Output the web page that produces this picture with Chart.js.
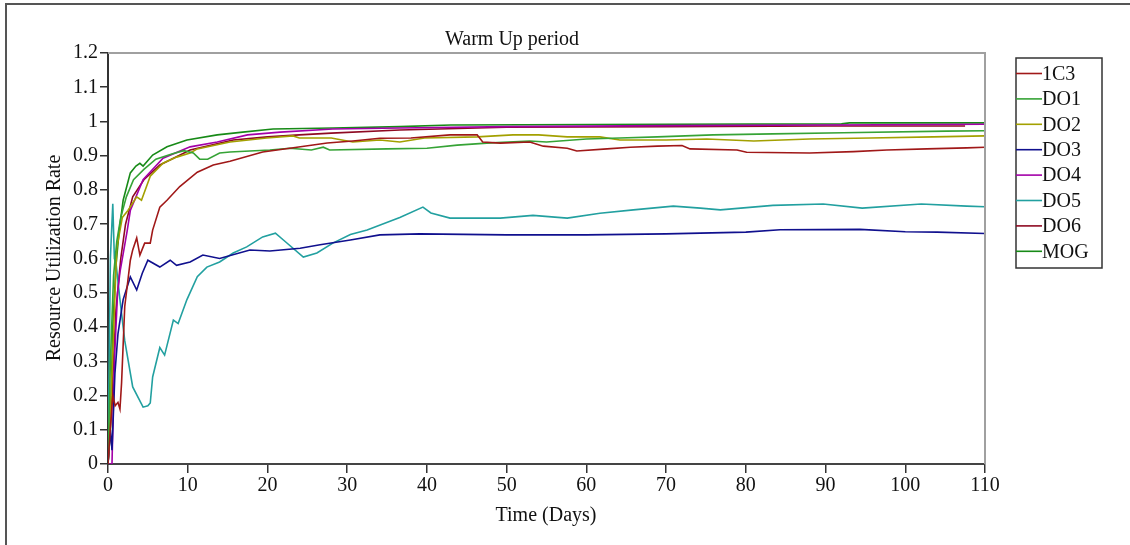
<!DOCTYPE html>
<html>
<head>
<meta charset="utf-8">
<script src="https://cdn.jsdelivr.net/npm/chart.js@4/dist/chart.umd.min.js"></script>
<style>
  html, body { margin: 0; padding: 0; background: #fff; }
  #wrap { width: 1130px; height: 545px; }
</style>
</head>
<body>
<div id="wrap"><canvas id="warmUp" width="1130" height="545"></canvas></div>
<script>
// series names, in legend order
var seriesNames = ["1C3", "DO1", "DO2", "DO3", "DO4", "DO5", "DO6", "MOG"];
var seriesColors = ["#a01818", "#36a336", "#a3a000", "#10108e", "#a300a8", "#22a0a0", "#8e0a22", "#178a17"];

// values (days, rate)
var c3Days = [0, 0.25, 0.6, 0.9, 1.25, 1.5, 1.7, 2.1, 2.8, 3.1, 3.6, 4.0, 4.6, 5.3, 5.6, 6.5, 7.4, 9, 11.2, 13.2, 15.3, 19.4, 22.8, 27.5, 30.7, 34.1, 38, 42.9, 46.3, 47, 49.2, 52.9, 54.6, 57.6, 58.8, 62.6, 65.5, 68.9, 72, 73, 78.9, 80.1, 88, 93.5, 97.7, 102.7, 107.7, 110];
var c3Rate = [0, 0.09, 0.2, 0.17, 0.18, 0.16, 0.236, 0.46, 0.595, 0.625, 0.66, 0.61, 0.645, 0.645, 0.683, 0.75, 0.77, 0.81, 0.852, 0.873, 0.884, 0.911, 0.922, 0.937, 0.943, 0.951, 0.952, 0.961, 0.961, 0.94, 0.937, 0.94, 0.928, 0.922, 0.914, 0.92, 0.925, 0.928, 0.93, 0.92, 0.917, 0.91, 0.908, 0.912, 0.917, 0.92, 0.923, 0.925];

var do1Days = [0, 0.3, 0.7, 1.1, 1.6, 2.3, 3.2, 4.5, 6, 8, 9.5, 10.7, 11.5, 12.5, 14, 15.3, 20.3, 22.8, 25.5, 27, 27.8, 35, 40, 43.8, 47.5, 52.9, 55, 60, 64.2, 68.9, 75.9, 83.4, 92.2, 105.2, 110];
var do1Rate = [0, 0.3, 0.55, 0.65, 0.72, 0.78, 0.83, 0.86, 0.89, 0.905, 0.915, 0.908, 0.89, 0.89, 0.908, 0.911, 0.917, 0.922, 0.917, 0.925, 0.917, 0.92, 0.922, 0.931, 0.937, 0.943, 0.94, 0.949, 0.952, 0.955, 0.961, 0.964, 0.967, 0.972, 0.973];

var do2Days = [0, 0.4, 0.8, 1.1, 1.8, 2.5, 3.6, 4.2, 5.3, 6.9, 8.6, 10.3, 11.2, 15.3, 19.9, 23.2, 24, 28, 30.7, 34.1, 36.6, 39.7, 46.3, 50.8, 54, 57.6, 61.7, 64.2, 70, 75.1, 81, 88, 95.6, 103.5, 110];
var do2Rate = [0, 0.2, 0.45, 0.63, 0.72, 0.74, 0.78, 0.77, 0.84, 0.878, 0.896, 0.908, 0.92, 0.94, 0.952, 0.958, 0.952, 0.952, 0.94, 0.946, 0.94, 0.952, 0.955, 0.961, 0.961, 0.955, 0.955, 0.946, 0.946, 0.949, 0.943, 0.949, 0.952, 0.955, 0.958];

var do3Days = [0, 0.3, 0.5, 0.87, 1.25, 1.9, 2.8, 3.6, 4.3, 5.0, 6.5, 7.8, 8.6, 10.3, 11.9, 14, 17.8, 20.3, 24.1, 26.6, 30.4, 34.1, 39.1, 50, 60, 70, 80, 84.3, 94.3, 100, 104, 110];
var do3Rate = [0, 0.1, 0.04, 0.265, 0.38, 0.48, 0.546, 0.508, 0.557, 0.595, 0.575, 0.595, 0.58, 0.59, 0.61, 0.6, 0.625, 0.622, 0.63, 0.64, 0.654, 0.669, 0.672, 0.669, 0.669, 0.672, 0.677, 0.684, 0.685, 0.678, 0.677, 0.673];

var do4Days = [0, 0.5, 0.8, 1.2, 1.5, 2.4, 2.8, 4.4, 6.9, 10.3, 13.7, 17.5, 21.6, 28.2, 36.6, 50, 70, 90, 110];
var do4Rate = [0, 0, 0.3, 0.5, 0.56, 0.68, 0.74, 0.83, 0.893, 0.926, 0.94, 0.961, 0.969, 0.978, 0.981, 0.985, 0.988, 0.99, 0.992];

var do5Days = [0, 0.3, 0.6, 0.8, 1.0, 1.5, 2.1, 3.1, 4.4, 5.0, 5.3, 5.6, 6.5, 7.1, 8.2, 8.8, 9.9, 11.2, 12.4, 14, 15.7, 17.4, 19.4, 21, 22, 24.5, 26.2, 28.2, 30.4, 32.5, 36.6, 39.5, 40.5, 42.9, 49.2, 53.3, 57.6, 61.7, 65.9, 70.9, 74.3, 76.8, 83.4, 89.7, 94.6, 102, 107.7, 110];
var do5Rate = [0, 0.6, 0.76, 0.6, 0.587, 0.48, 0.36, 0.225, 0.166, 0.17, 0.178, 0.254, 0.34, 0.318, 0.42, 0.41, 0.48, 0.547, 0.575, 0.59, 0.616, 0.634, 0.663, 0.674, 0.654, 0.604, 0.616, 0.645, 0.67, 0.683, 0.72, 0.75, 0.733, 0.718, 0.718, 0.726, 0.718, 0.732, 0.742, 0.753, 0.747, 0.742, 0.755, 0.759, 0.747, 0.759, 0.753, 0.751];

var do6Days = [0, 0.4, 1.0, 1.6, 2.2, 3.1, 4.5, 6.5, 10.3, 15.7, 20, 24, 28, 36.6, 50, 70, 90, 107.5];
var do6Rate = [0, 0.15, 0.45, 0.6, 0.7, 0.78, 0.83, 0.873, 0.917, 0.946, 0.955, 0.961, 0.966, 0.975, 0.983, 0.985, 0.987, 0.987];

var mogDays = [0, 0.3, 0.6, 1.0, 1.4, 1.9, 2.8, 3.5, 4.0, 4.4, 5.6, 7.4, 9.9, 13.7, 16.9, 20.7, 28.2, 36.6, 43, 70, 92, 93, 110];
var mogRate = [0, 0.1, 0.4, 0.58, 0.68, 0.77, 0.85, 0.87, 0.878, 0.87, 0.902, 0.926, 0.946, 0.961, 0.969, 0.978, 0.981, 0.985, 0.99, 0.992, 0.993, 0.996, 0.996];

var xTicks = [0, 10, 20, 30, 40, 50, 60, 70, 80, 90, 100, 110];
var yTicks = [0, 0.1, 0.2, 0.3, 0.4, 0.5, 0.6, 0.7, 0.8, 0.9, 1, 1.1, 1.2];

var allDays = [c3Days, do1Days, do2Days, do3Days, do4Days, do5Days, do6Days, mogDays];
var allRates = [c3Rate, do1Rate, do2Rate, do3Rate, do4Rate, do5Rate, do6Rate, mogRate];

var FONT = "'Liberation Serif', 'Times New Roman', serif";

function pairs(days, rates) {
    var pts = [];
    for (var i = 0; i < days.length; i++) {
        pts.push({ x: days[i], y: rates[i] });
    }
    return pts;
}

var datasets = [];
for (var i = 0; i < seriesNames.length; i++) {
    datasets.push({
        label: seriesNames[i],
        data: pairs(allDays[i], allRates[i]),
        borderColor: seriesColors[i],
        backgroundColor: seriesColors[i],
        borderWidth: 1.6,
        pointRadius: 0,
        tension: 0,
        fill: false
    });
}

// frame, title, axis titles, plot border and legend box
var decorations = {
    id: "decorations",
    beforeDraw: function (chart) {
        var ctx = chart.ctx;
        ctx.save();
        ctx.fillStyle = "#fff";
        ctx.fillRect(0, 0, chart.width, chart.height);
        ctx.fillStyle = "#555";
        ctx.fillRect(5, 3, 2, chart.height - 3);
        ctx.fillRect(5, 3, chart.width - 5, 2);
        ctx.restore();
    },
    afterDraw: function (chart) {
        var ctx = chart.ctx;
        var a = chart.chartArea;
        ctx.save();
        ctx.strokeStyle = "#a0a0a0";
        ctx.lineWidth = 2;
        ctx.beginPath();
        ctx.moveTo(a.left, a.top);
        ctx.lineTo(a.right, a.top);
        ctx.lineTo(a.right, a.bottom);
        ctx.stroke();

        ctx.fillStyle = "#111";
        ctx.font = "20px " + FONT;
        ctx.textAlign = "center";
        ctx.textBaseline = "middle";
        ctx.fillText("Warm Up period", 512, 40);
        ctx.fillText("Time (Days)", 546, 516);

        ctx.save();
        ctx.translate(55, 258);
        ctx.rotate(-Math.PI / 2);
        ctx.fillText("Resource Utilization Rate", 0, 0);
        ctx.restore();

        // legend
        var lx = 1016, ly = 58, lw = 86, lh = 210;
        ctx.strokeStyle = "#333";
        ctx.lineWidth = 1.5;
        ctx.strokeRect(lx, ly, lw, lh);
        ctx.textAlign = "left";
        for (var i = 0; i < chart.data.datasets.length; i++) {
            var ds = chart.data.datasets[i];
            var yy = 73.5 + i * 25.4;
            ctx.strokeStyle = ds.borderColor;
            ctx.lineWidth = 1.6;
            ctx.beginPath();
            ctx.moveTo(lx, yy);
            ctx.lineTo(lx + 26, yy);
            ctx.stroke();
            ctx.fillStyle = "#111";
            ctx.fillText(ds.label, lx + 26, yy + 1);
        }
        ctx.restore();
    }
};

new Chart(document.getElementById("warmUp"), {
    type: "line",
    data: { datasets: datasets },
    plugins: [decorations],
    options: {
        responsive: false,
        animation: false,
        layout: { padding: { left: 0, top: 53, right: 145, bottom: 0 } },
        plugins: {
            legend: { display: false },
            title: { display: false },
            tooltip: { enabled: false }
        },
        scales: {
            x: {
                type: "linear",
                min: 0,
                max: 110,
                afterFit: function (s) { s.height = 81; },
                afterBuildTicks: function (s) {
                    s.ticks = xTicks.map(function (v) { return { value: v }; });
                },
                ticks: {
                    color: "#111",
                    font: { family: FONT, size: 20 },
                    padding: 1,
                    maxRotation: 0,
                    autoSkip: false
                },
                grid: {
                    display: true,
                    drawOnChartArea: false,
                    drawTicks: true,
                    tickLength: 9,
                    color: "#333",
                    lineWidth: 1.5
                },
                border: { display: true, color: "#444", width: 2 }
            },
            y: {
                min: 0,
                max: 1.2,
                afterFit: function (s) { s.width = 108; },
                afterBuildTicks: function (s) {
                    s.ticks = yTicks.map(function (v) { return { value: v }; });
                },
                ticks: {
                    color: "#111",
                    font: { family: FONT, size: 20 },
                    padding: 2,
                    autoSkip: false,
                    callback: function (v) { return String(Math.round(v * 10) / 10); }
                },
                grid: {
                    display: true,
                    drawOnChartArea: false,
                    drawTicks: true,
                    tickLength: 8,
                    color: "#333",
                    lineWidth: 1.5
                },
                border: { display: true, color: "#333", width: 2 }
            }
        }
    }
});
</script>
</body>
</html>
